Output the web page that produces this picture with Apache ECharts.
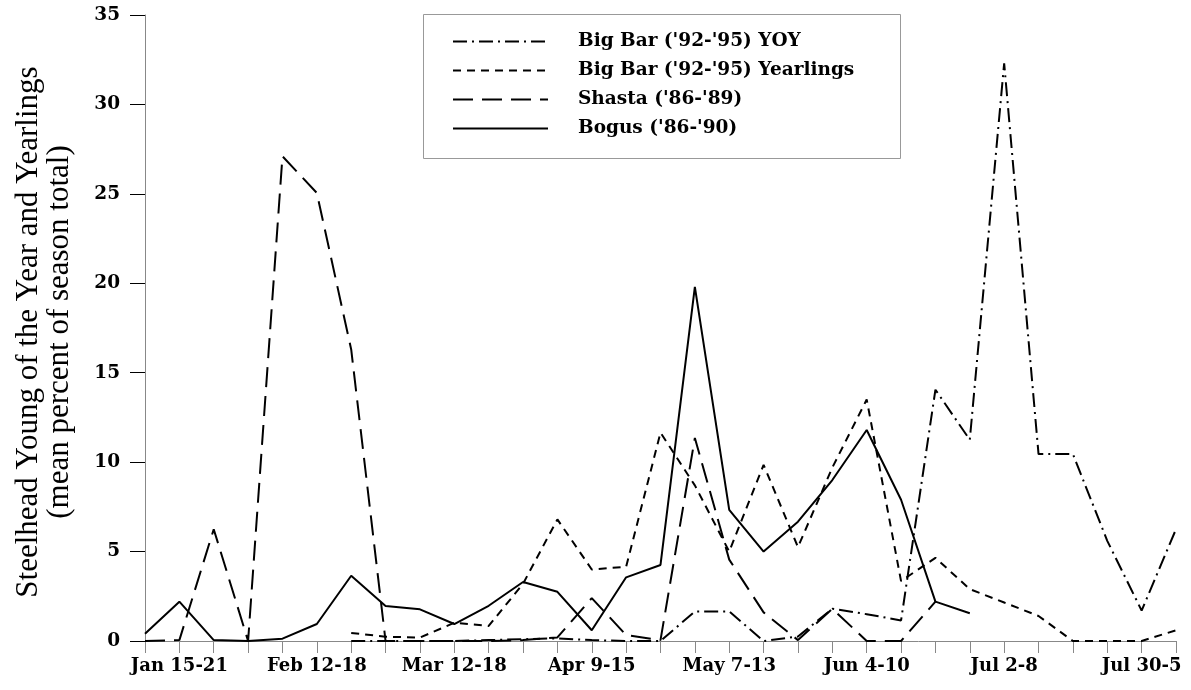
<!DOCTYPE html>
<html>
<head>
<meta charset="utf-8">
<script src="https://cdn.jsdelivr.net/npm/echarts@6/dist/echarts.min.js"></script>
<style>
html,body{margin:0;padding:0;background:#fff;}
#chart{width:1191px;height:690px;}
</style>
</head>
<body>
<div id="chart"></div>
<script>
// Weekly categories (31 weeks)
const weeks = ['Jan 8-14','Jan 15-21','Jan 22-28','Jan 29-4','Feb 5-11','Feb 12-18','Feb 19-25','Feb 26-4',
  'Mar 5-11','Mar 12-18','Mar 19-25','Mar 26-1','Apr 2-8','Apr 9-15','Apr 16-22','Apr 23-29',
  'Apr 30-6','May 7-13','May 14-20','May 21-27','May 28-3','Jun 4-10','Jun 11-17','Jun 18-24',
  'Jun 25-1','Jul 2-8','Jul 9-15','Jul 16-22','Jul 23-29','Jul 30-5','Aug 6-12'];

const seriesNames = ["Big Bar ('92-'95) YOY", "Big Bar ('92-'95) Yearlings", "Shasta ('86-'89)", "Bogus ('86-'90)"];

const bigBarYOY = [null,null,null,null,null,null,
  0,0,0,0,0.05,0.1,0.15,0.05,0,0,1.65,1.65,0,0.25,1.8,1.5,1.15,14.05,11.25,32.3,10.45,10.45,5.6,1.7,6.25];

const bigBarYearlings = [null,null,null,null,null,null,
  0.45,0.24,0.19,1.02,0.84,3.2,6.8,4.0,4.15,11.65,8.7,5.0,9.85,5.25,9.7,13.5,3.35,4.65,2.9,2.15,1.4,0,0,0,0.6];

const shasta = [0,0.05,6.25,0,27.1,25.05,16.3,0,0,0,0,0.05,0.2,2.4,0.33,0.05,11.35,4.55,1.6,0.05,1.8,0,0,2.2,
  null,null,null,null,null,null,null];

const bogus = [0.4,2.2,0.05,0,0.13,0.95,3.65,1.96,1.77,0.95,1.97,3.3,2.75,0.6,3.56,4.25,19.8,7.33,5.0,6.67,9.0,11.8,7.9,2.2,1.55,
  null,null,null,null,null,null];

const yTicks = {min: 0, max: 35, interval: 5};

const chart = echarts.init(document.getElementById('chart'), null, {renderer: 'canvas'});

function lineSeries(name, data, dash) {
  return {
    name: name,
    type: 'line',
    data: data,
    symbol: 'none',
    showSymbol: false,
    connectNulls: false,
    lineStyle: {color: '#000', width: 2, type: dash},
    itemStyle: {color: '#000'},
    z: 2
  };
}

const option = {
  animation: false,
  backgroundColor: '#fff',
  grid: {left: 145, right: 15, top: 15, bottom: 49, containLabel: false},
  legend: {
    orient: 'vertical',
    left: 452,
    top: 32,
    itemWidth: 95,
    itemHeight: 14,
    itemGap: 10,
    padding: 0,
    data: seriesNames,
    itemStyle: {opacity: 0},
    textStyle: {fontFamily: 'DejaVu Serif', fontWeight: 'bold', fontSize: 18.5, lineHeight: 18, color: '#000', padding: [0,0,0,25]}
  },
  graphic: [{
    type: 'rect',
    shape: {x: 423.5, y: 14.5, width: 477, height: 144},
    style: {fill: '#fff', stroke: '#999', lineWidth: 1},
    z: 1
  }],
  xAxis: {
    type: 'category',
    data: weeks,
    boundaryGap: false,
    axisLine: {lineStyle: {color: '#888', width: 1}},
    axisTick: {show: true, interval: 0, length: 12, lineStyle: {color: '#888'}},
    axisLabel: {
      interval: function (idx) { return idx % 4 === 1; },
      margin: 16,
      fontFamily: 'DejaVu Serif',
      fontWeight: 'bold',
      fontSize: 18,
      color: '#000'
    },
    splitLine: {show: false}
  },
  yAxis: {
    type: 'value',
    min: yTicks.min,
    max: yTicks.max,
    interval: yTicks.interval,
    name: 'Steelhead Young of the Year and Yearlings\n(mean percent of season total)',
    nameLocation: 'middle',
    nameRotate: 90,
    nameGap: 70,
    nameTextStyle: {fontFamily: 'Liberation Serif', fontSize: 31, lineHeight: 31, color: '#000', padding: [0, 8, 0, 0]},
    axisLine: {show: true, lineStyle: {color: '#888', width: 1}},
    axisTick: {show: true, length: 15, lineStyle: {color: '#000'}},
    axisLabel: {margin: 25, fontFamily: 'DejaVu Serif', fontWeight: 'bold', fontSize: 18.5, color: '#000'},
    splitLine: {show: false}
  },
  series: [
    lineSeries(seriesNames[0], bigBarYOY, [14, 5, 2, 5]),
    lineSeries(seriesNames[1], bigBarYearlings, [8, 6]),
    lineSeries(seriesNames[2], shasta, [20, 9]),
    lineSeries(seriesNames[3], bogus, 'solid')
  ]
};

chart.setOption(option);
</script>
</body>
</html>
